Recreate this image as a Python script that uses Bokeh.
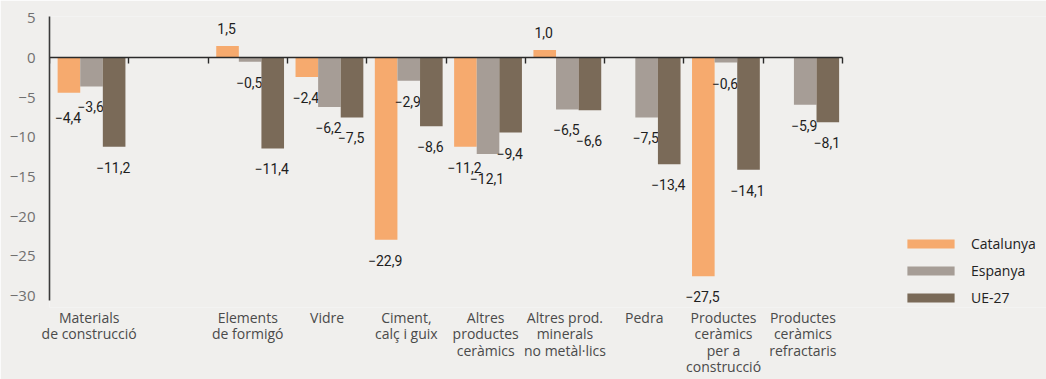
import numpy as np
from bokeh.plotting import figure
from bokeh.models import (ColumnDataSource, Range1d, LinearAxis, FixedTicker,
                          Legend, LegendItem)
from bokeh.embed import file_html
from bokeh.resources import INLINE
from bokeh.core.properties import value

nan = float("nan")

categories = ["Materials\nde construcció", "", "Elements\nde formigó", "Vidre",
              "Ciment,\ncalç i guix", "Altres\nproductes\nceràmics",
              "Altres prod.\nminerals\nno metàl·lics", "Pedra",
              "Productes\nceràmics\nper a\nconstrucció",
              "Productes\nceràmics\nrefractaris"]
catalunya = [-4.4, nan, 1.5, -2.4, -22.9, -11.2, 1.0, nan, -27.5, nan]
espanya = [-3.6, nan, -0.5, -6.2, -2.9, -12.1, -6.5, -7.5, -0.6, -5.9]
ue27 = [-11.2, nan, -11.4, -7.5, -8.6, -9.4, -6.6, -13.4, -14.1, -8.1]
series_names = ["Catalunya", "Espanya", "UE-27"]
series_values = [catalunya, espanya, ue27]
y_ticks = [5, 0, -5, -10, -15, -20, -25, -30]

BG = "#f0efed"
COLORS = ["#f6aa6e", "#a69d96", "#7a6a58"]
BAR_W = 0.285
OFFSETS = [-BAR_W + 0.03, 0.03, BAR_W + 0.03]

W, H = 1046, 379
LEFT, TOP, BOTTOM = 49, 16, 67
CAT_PX = 79.3   # pixel width of one category
PX_PER_UNIT = 8.083
n = len(categories)
x_end = (W - LEFT) / CAT_PX  # frame extends under the legend area
y_top = 5.2
y_axis_bottom = -30.5
y_bottom = y_top - (H - TOP - BOTTOM) / PX_PER_UNIT

NEG_GAP = 15      # screen px between bar end and label (negative bars)
POS_GAP = -12     # for positive bars
LABEL_H = 12      # approx. digit height in px
CHAR_W = {"\u2212": 8.0, ",": 3.2}


def fmt(v):
    s = f"{abs(v):.1f}".replace(".", ",")
    return ("\u2212" + s) if v < 0 else s


def text_w(s):
    return sum(CHAR_W.get(ch, 7.9) for ch in s)


p = figure(width=W, height=H, output_backend="svg", toolbar_location=None,
           x_range=Range1d(0, x_end), y_range=Range1d(y_bottom, y_top),
           min_border_left=LEFT, min_border_right=0, min_border_top=TOP,
           min_border_bottom=BOTTOM)
p.background_fill_color = BG
p.border_fill_color = BG
p.outline_line_color = None
p.xgrid.visible = False
p.ygrid.visible = False

# y axis
p.yaxis.ticker = FixedTicker(ticks=y_ticks)
p.yaxis.bounds = (y_axis_bottom, y_top)
p.yaxis.major_label_overrides = {t: (("\u2212" + str(abs(t))) if t < 0 else str(t)) for t in y_ticks}
p.yaxis.axis_line_color = "#3a3a3a"
p.yaxis.axis_line_width = 1.6
p.yaxis.major_tick_line_color = None
p.yaxis.minor_tick_line_color = None
p.yaxis.major_tick_in = 0
p.yaxis.major_tick_out = 0
p.yaxis.major_label_standoff = 14
p.yaxis.major_label_text_font = "Open Sans"
p.yaxis.major_label_text_font_size = "15px"
p.yaxis.major_label_text_color = "#707070"

# bottom category axis
centers = [i + 0.5 for i in range(n)]
p.xaxis.ticker = FixedTicker(ticks=centers)
p.xaxis.major_label_overrides = {c: lab for c, lab in zip(centers, categories)}
p.xaxis.axis_line_color = None
p.xaxis.major_tick_line_color = None
p.xaxis.minor_tick_line_color = None
p.xaxis.major_tick_out = 0
p.xaxis.major_tick_in = 0
p.xaxis.major_label_standoff = 0
p.xaxis.major_label_text_font = "Open Sans"
p.xaxis.major_label_text_font_size = "14px"
p.xaxis.major_label_text_color = "#4a4a4a"
p.xaxis.major_label_text_line_height = 0.87

# zero axis with boundary ticks
zero_axis = LinearAxis(fixed_location=0, bounds=(0, n),
                       ticker=FixedTicker(ticks=list(range(n + 1))),
                       axis_line_color="#2a2a2a", axis_line_width=1.6,
                       major_tick_line_color="#2a2a2a", major_tick_line_width=1.4,
                       major_tick_in=0, major_tick_out=6,
                       minor_tick_line_color=None,
                       major_label_text_alpha=0, major_label_text_font_size="1px")
p.add_layout(zero_axis, "below")

# label placement with simple collision avoidance inside each group
neg_labels = {k: dict(x=[], y=[], t=[], dy=[]) for k in range(3)}
pos_labels = {k: dict(x=[], y=[], t=[]) for k in range(3)}
for i in range(n):
    boxes = []  # [k, xl, xr, top]
    for k, vals in enumerate(series_values):
        v = vals[i]
        if v != v:
            continue
        x = centers[i] + OFFSETS[k]
        if v >= 0:
            pos_labels[k]["x"].append(x)
            pos_labels[k]["y"].append(v)
            pos_labels[k]["t"].append(fmt(v))
            continue
        t = fmt(v)
        xc = x * CAT_PX
        w = text_w(t)
        top = -v * PX_PER_UNIT + NEG_GAP
        boxes.append([k, xc - w / 2, xc + w / 2, top, x, v, t])
    # resolve overlaps: the lower label is pushed below the upper one
    for a in range(len(boxes)):
        for b in range(a + 1, len(boxes)):
            A, B = boxes[a], boxes[b]
            xo = min(A[2], B[2]) - max(A[1], B[1])
            yo = min(A[3], B[3]) + LABEL_H - max(A[3], B[3])
            if xo > 3 and yo > 4:
                lo, hi = (A, B) if A[3] >= B[3] else (B, A)
                lo[3] = hi[3] + LABEL_H - 1
    for k, xl, xr, top, x, v, t in boxes:
        d = neg_labels[k]
        d["x"].append(x)
        d["y"].append(v)
        d["t"].append(t)
        d["dy"].append(top + v * PX_PER_UNIT)

label_font = value("Roboto")
legend_items = []
for k, (name, vals) in enumerate(zip(series_names, series_values)):
    xs = [c + OFFSETS[k] for c in centers]
    src = ColumnDataSource(dict(x=xs, top=vals))
    r = p.vbar(x="x", top="top", bottom=0, width=BAR_W, source=src,
               fill_color=COLORS[k], line_color=None)
    legend_items.append(LegendItem(label=name, renderers=[r]))

    p.text(x="x", y="y", text="t", source=ColumnDataSource(neg_labels[k]),
           text_align="center", text_baseline="top", y_offset="dy", x_offset=-1,
           text_font=label_font, text_font_size="14px", text_color="#1e1e1e")
    p.text(x="x", y="y", text="t", source=ColumnDataSource(pos_labels[k]),
           text_align="center", text_baseline="bottom", y_offset=POS_GAP, x_offset=-1,
           text_font=label_font, text_font_size="14px", text_color="#1e1e1e")

legend = Legend(items=legend_items, location=(852, 0),
                glyph_width=59, glyph_height=11, label_height=16, spacing=8,
                label_standoff=11, padding=0, margin=0,
                label_text_font="Open Sans", label_text_font_size="14px",
                label_text_color="#222222",
                background_fill_alpha=0, border_line_color=None)
p.add_layout(legend, "center")

html = file_html(p, INLINE)
html = html.replace("<body>", '<body style="background-color:%s">' % BG, 1)
open("out.html", "w").write(html)
